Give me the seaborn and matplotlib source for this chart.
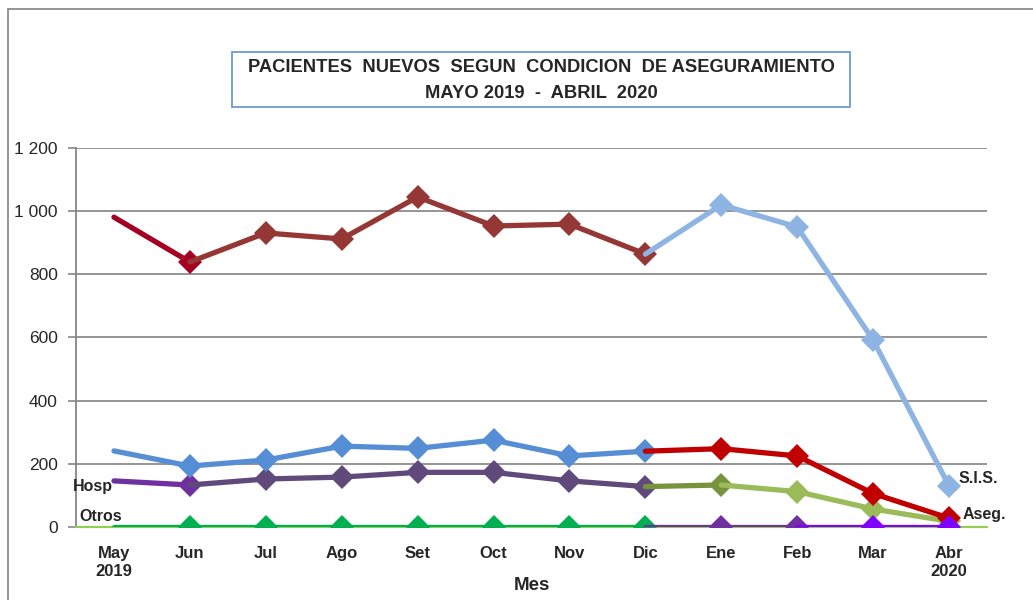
import matplotlib
matplotlib.use("Agg")
import matplotlib.pyplot as plt
import matplotlib.patches as mpatches
import seaborn as sns
import pandas as pd
import numpy as np

months = ["May\n2019", "Jun", "Jul", "Ago", "Set", "Oct", "Nov", "Dic", "Ene", "Feb", "Mar", "Abr\n2020"]
sis = [981, 839, 931, 912, 1045, 953, 959, 864, 1020, 950, 592, 130]
aseg = [241, 193, 212, 256, 249, 275, 225, 240, 248, 225, 106, 28]
hosp = [146, 133, 152, 158, 173, 173, 146, 128, 133, 112, 57, 18]
otros = [0, 0, 0, 0, 0, 0, 0, 0, 0, 0, 0, 0]
yticks = [0, 200, 400, 600, 800, 1000, 1200]
ytick_labels = ["0", "200", "400", "600", "800", "1 000", "1 200"]

sns.set_theme(style="white")
plt.rcParams['font.family'] = ['Liberation Sans', 'DejaVu Sans']

fig = plt.figure(figsize=(10.33, 6.0), dpi=100)
ax = fig.add_axes([76/1033, 1-527/600, (987-76)/1033, (527-148)/600])

x = np.arange(len(months))

segments = [
    (hosp, 0, 1, "#7030A0"), (hosp, 1, 7, "#604A7B"), (hosp, 7, 8, "#77933C"), (hosp, 8, 11, "#9BBB59"),
    (aseg, 0, 7, "#558ED5"), (aseg, 7, 11, "#C00000"),
    (otros, 0, 7, "#00B050"), (otros, 7, 9, "#7030A0"), (otros, 9, 11, "#7F00FF"),
    (sis, 0, 1, "#A50021"), (sis, 1, 7, "#953735"), (sis, 7, 11, "#8DB4E2"),
]

for vals, a, b, col in segments:
    df = pd.DataFrame({"x": x[a:b+1], "y": vals[a:b+1]})
    sns.lineplot(data=df, x="x", y="y", ax=ax, color=col, linewidth=3.8,
                 marker="D", markersize=12, markeredgewidth=0,
                 markevery=list(range(1, b - a + 1)), sort=False, zorder=3,
                 clip_on=True)

ax.set_xlim(-0.5, 11.5)
ax.set_ylim(0, 1200)
ax.set_yticks(yticks)
ax.set_yticklabels(ytick_labels, fontsize=12.5)
ax.set_xticks(np.arange(-0.5, 12, 1))
ax.set_xticklabels([])
ax.set_xticks(x, minor=True)
ax.set_xticklabels(months, minor=True, fontsize=12, fontweight="bold", linespacing=1.25)
ax.tick_params(axis="x", which="major", length=6, width=1.2, color="#92D050", direction="out")
ax.tick_params(axis="x", which="minor", length=0, pad=14)
ax.tick_params(axis="y", length=6, width=1.2, color="#868686", direction="out", pad=7, left=True)
ax.grid(axis="y", color="#8C8C8C", linewidth=1.3)
ax.set_axisbelow(True)
for s in ["top", "right"]:
    ax.spines[s].set_visible(False)
ax.spines["left"].set_color("#868686")
ax.spines["left"].set_linewidth(1.3)
ax.spines["bottom"].set_color("#92D050")
ax.spines["bottom"].set_linewidth(1.5)
ax.set_xlabel("Mes", fontsize=13.5, fontweight="bold", labelpad=-2)
ax.set_ylabel("")

ax.text(-0.02, 127, "Hosp", fontsize=11.5, fontweight="bold", ha="right", va="center", clip_on=False)
ax.text(-0.45, 33, "Otros", fontsize=11.5, fontweight="bold", ha="left", va="center", clip_on=False)
ax.text(11.12, 152, "S.I.S.", fontsize=11.5, fontweight="bold", ha="left", va="center", clip_on=False)
ax.text(11.18, 40, "Aseg.", fontsize=11.5, fontweight="bold", ha="left", va="center", clip_on=False)

# title box
fig.patches.append(mpatches.Rectangle((232/1033, 1-107/600), (850-232)/1033, 55/600,
                                      transform=fig.transFigure, fill=False,
                                      edgecolor="#6C9BD2", linewidth=1.3))
fig.text(541/1033, 1-68/600, "PACIENTES  NUEVOS  SEGUN  CONDICION  DE ASEGURAMIENTO",
         ha="center", va="center", fontsize=13.2, fontweight="bold")
fig.text(541/1033, 1-93/600, "MAYO 2019  -  ABRIL  2020",
         ha="center", va="center", fontsize=13.2, fontweight="bold")

# outer frame
fig.patches.append(mpatches.Rectangle((7.5/1033, -0.1), 1.2, 1 - 8.5/600 + 0.1,
                                      transform=fig.transFigure, fill=False,
                                      edgecolor="#8C8C8C", linewidth=1.3))

fig.savefig("out.png", dpi=100)
